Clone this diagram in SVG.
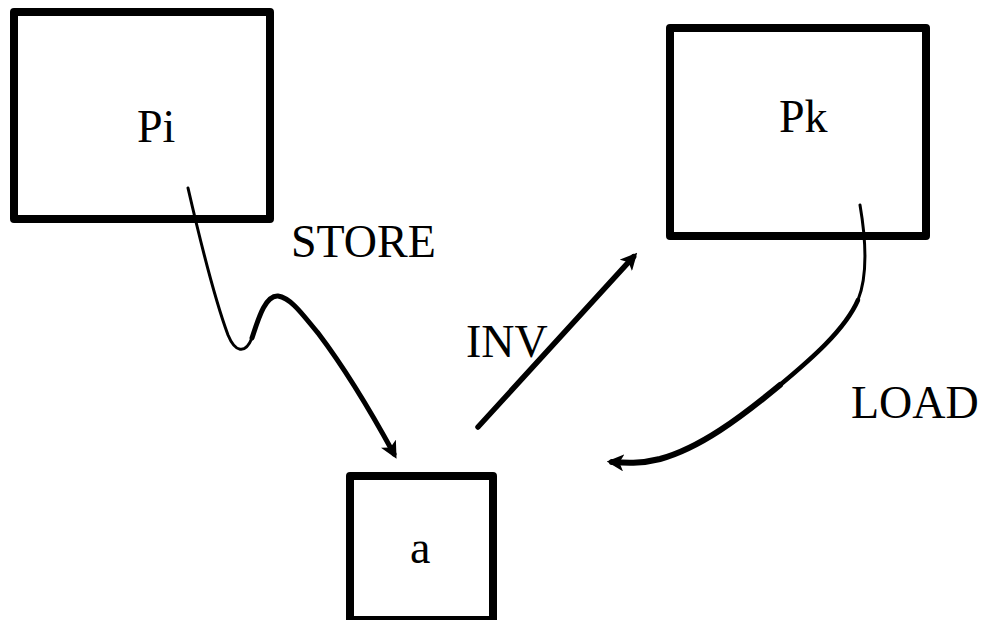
<svg xmlns="http://www.w3.org/2000/svg" width="984" height="620" viewBox="0 0 984 620">
  <style>
    .box { fill: #ffffff; stroke: #000000; stroke-width: 8; stroke-linejoin: round; }
    .lbl { font-family: "Liberation Serif", "Times New Roman", serif; font-size: 46px; fill: #000000; }
    .wire { fill: none; stroke: #000000; stroke-linecap: round; stroke-linejoin: round; }
  </style>
  <defs>
    <!-- barbed arrowhead, tip at (16,8) -->
    <marker id="head" viewBox="0 0 16 16" refX="11" refY="8" markerWidth="17" markerHeight="17" markerUnits="userSpaceOnUse" orient="auto">
      <path d="M16,8 L0,0 L4,8 L0,16 Z" fill="#000000"/>
    </marker>
  </defs>

  <rect width="984" height="620" fill="#ffffff"/>

  <g id="node-Pi">
    <rect class="box" x="14" y="12" width="256" height="207"/>
    <text class="lbl" x="137" y="142">Pi</text>
  </g>

  <g id="node-Pk">
    <rect class="box" x="670" y="28" width="256" height="208"/>
    <text class="lbl" x="779" y="132">Pk</text>
  </g>

  <g id="node-a">
    <rect class="box" x="350" y="476" width="143" height="144"/>
    <text class="lbl" x="410" y="563">a</text>
  </g>

  <g id="connectors">
    <!-- STORE: Pi to a -->
    <path class="wire" stroke-width="3" d="M188,188 C200,240 215,300 228,335 C235,352 245,355 252,338"/>
    <path class="wire" stroke-width="5" marker-end="url(#head)" d="M252,338 C258,320 265,295 278,296 C292,298 305,318 318,333 C340,362 370,410 394,454"/>
    <text class="lbl" x="291" y="257">STORE</text>

    <!-- INV: a to Pk -->
    <path class="wire" stroke-width="5.5" stroke-linecap="butt" marker-end="url(#head)" d="M478,427 L633.6,256.7"/>
    <text class="lbl" x="466" y="357">INV</text>

    <!-- LOAD: Pk to a -->
    <path class="wire" stroke-width="3" d="M860,205 C866,240 868,275 858,300"/>
    <path class="wire" stroke-width="4.5" d="M858,300 C845,330 810,360 780,385"/>
    <path class="wire" stroke-width="6" marker-end="url(#head)" d="M780,385 C740,418 700,448 660,459 C640,464 625,463 612,462"/>
    <text class="lbl" x="851" y="418">LOAD</text>
  </g>
</svg>
